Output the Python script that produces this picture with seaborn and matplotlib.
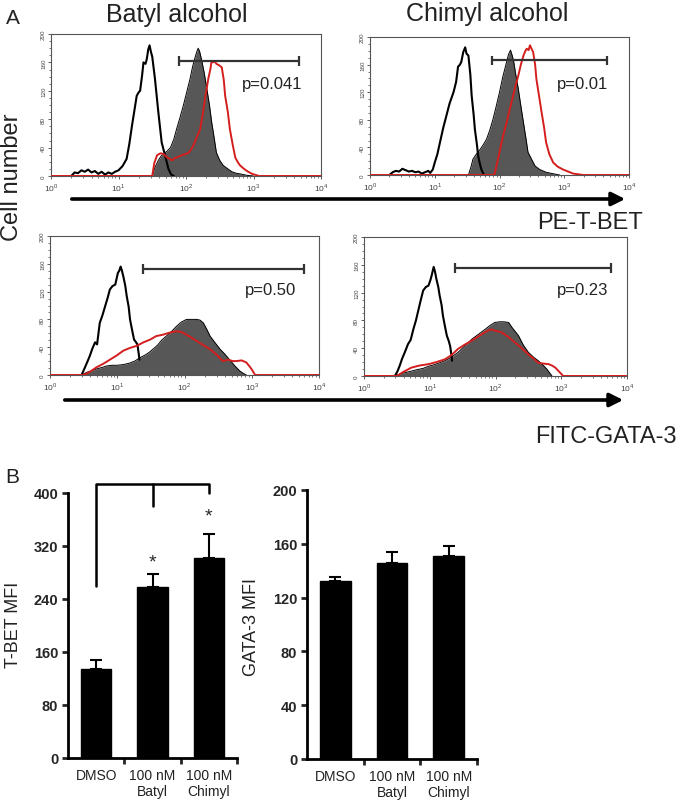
import numpy as np
import matplotlib
matplotlib.use("Agg")
import matplotlib.pyplot as plt
from matplotlib.ticker import FixedLocator, NullFormatter
import seaborn as sns

# ---- Panel A: flow histograms (x = log10 fluorescence, y = cell count) ----
# top-left: Batyl alcohol, PE-T-BET
tl_black_x = [0.30, 0.35, 0.40, 0.45, 0.50, 0.55, 0.60, 0.65, 0.70, 0.75, 0.80, 0.85, 0.90, 0.95, 1.00, 1.06,
              1.12, 1.16, 1.20, 1.24, 1.27, 1.30, 1.32, 1.35, 1.37, 1.40, 1.42, 1.44, 1.46, 1.48, 1.50, 1.54,
              1.59, 1.64, 1.69, 1.74, 1.78, 1.82]
tl_black_y = [0, 5, 4, 8, 6, 9, 5, 7, 3, 6, 2, 5, 3, 6, 8, 14, 24, 45, 71, 95, 113, 118, 120, 142, 160, 158,
              165, 178, 184, 175, 168, 137, 90, 47, 29, 10, 2, 0]
tl_gray_x = [1.50, 1.54, 1.59, 1.63, 1.67, 1.72, 1.77, 1.82, 1.86, 1.91, 1.96, 2.01, 2.06, 2.10, 2.14, 2.16,
             2.18, 2.20, 2.23, 2.27, 2.31, 2.35, 2.38, 2.42, 2.45, 2.50, 2.55, 2.62, 2.68, 2.74, 2.80, 2.90, 3.00]
tl_gray_y = [0, 12, 22, 28, 31, 35, 40, 52, 66, 82, 99, 118, 137, 155, 169, 175, 180, 176, 164, 145, 122, 98,
             76, 52, 33, 22, 15, 10, 6, 4, 3, 1, 0]
tl_red_x = [0, 1.50, 1.53, 1.57, 1.60, 1.63, 1.68, 1.72, 1.76, 1.79, 1.83, 1.86, 1.91, 1.96, 2.00, 2.04, 2.08,
            2.11, 2.16, 2.21, 2.25, 2.28, 2.31, 2.33, 2.36, 2.38, 2.40, 2.42, 2.45, 2.49, 2.53, 2.56, 2.58, 2.62,
            2.65, 2.69, 2.73, 2.77, 2.80, 2.86, 2.92, 2.98, 3.05, 3.08, 4]
tl_red_y = [0, 0, 18, 29, 31, 32, 30, 26, 24, 22, 25, 26, 28, 30, 31, 33, 38, 43, 55, 66, 88, 108, 125, 137,
            150, 162, 160, 162, 158, 156, 153, 135, 113, 90, 66, 45, 26, 19, 15, 10, 6, 3, 1, 0, 0]

# top-right: Chimyl alcohol, PE-T-BET
tr_black_x = [0.30, 0.35, 0.40, 0.45, 0.50, 0.55, 0.60, 0.65, 0.70, 0.75, 0.80, 0.85, 0.90, 0.93, 0.97, 1.00,
              1.04, 1.08, 1.13, 1.18, 1.23, 1.29, 1.33, 1.36, 1.39, 1.41, 1.44, 1.47, 1.49, 1.52, 1.55, 1.57,
              1.60, 1.62, 1.65, 1.67, 1.70, 1.72, 1.76]
tr_black_y = [0, 4, 6, 5, 9, 7, 5, 6, 4, 5, 2, 4, 6, 3, 8, 18, 30, 47, 68, 86, 104, 120, 135, 157, 160, 164,
              178, 185, 176, 173, 145, 115, 88, 66, 45, 28, 15, 8, 0]
tr_gray_x = [1.52, 1.56, 1.59, 1.64, 1.70, 1.75, 1.80, 1.85, 1.90, 1.95, 2.00, 2.05, 2.11, 2.14, 2.17, 2.20,
             2.22, 2.25, 2.29, 2.33, 2.37, 2.41, 2.44, 2.50, 2.55, 2.62, 2.72, 2.82, 2.93]
tr_gray_y = [0, 12, 23, 30, 37, 44, 52, 65, 81, 100, 120, 142, 164, 175, 181, 172, 164, 146, 125, 100, 76, 52,
             33, 22, 13, 8, 4, 2, 0]
tr_red_x = [0, 1.92, 1.95, 2.00, 2.05, 2.11, 2.16, 2.21, 2.25, 2.29, 2.33, 2.37, 2.40, 2.42, 2.45, 2.47, 2.50,
            2.52, 2.55, 2.57, 2.61, 2.65, 2.69, 2.72, 2.77, 2.83, 2.90, 2.98, 3.06, 3.14, 3.22, 3.29, 4]
tr_red_y = [0, 0, 12, 33, 55, 76, 96, 115, 130, 144, 160, 173, 180, 183, 181, 188, 182, 178, 160, 139, 115, 91,
            68, 47, 30, 18, 12, 8, 5, 2, 1, 0, 0]

# bottom-left: Batyl alcohol, FITC-GATA-3
bl_black_x = [0.47, 0.52, 0.56, 0.59, 0.63, 0.67, 0.70, 0.74, 0.78, 0.82, 0.86, 0.89, 0.93, 0.97, 1.01, 1.03,
              1.05, 1.07, 1.09, 1.12, 1.14, 1.17, 1.19, 1.22, 1.25, 1.28, 1.30, 1.32, 1.33]
bl_black_y = [0, 11, 20, 27, 38, 47, 44, 75, 86, 99, 112, 123, 128, 130, 147, 150, 156, 150, 142, 128, 114,
              98, 80, 65, 51, 47, 44, 30, 22]
bl_gray_x = [0.47, 0.55, 0.62, 0.70, 0.78, 0.84, 0.92, 1.00, 1.09, 1.18, 1.26, 1.34, 1.42, 1.48, 1.53, 1.60,
             1.66, 1.73, 1.80, 1.88, 1.95, 2.03, 2.10, 2.18, 2.23, 2.28, 2.33, 2.38, 2.45, 2.53, 2.60, 2.67,
             2.75, 2.82, 2.88, 2.92]
bl_gray_y = [0, 4, 6, 9, 11, 13, 14, 14, 15, 17, 20, 25, 29, 33, 37, 43, 50, 56, 62, 70, 76, 80, 80, 80, 79,
             75, 66, 56, 47, 37, 30, 22, 13, 6, 2, 0]
bl_red_x = [0, 0.50, 0.60, 0.69, 0.79, 0.89, 0.99, 1.09, 1.19, 1.29, 1.39, 1.49, 1.58, 1.68, 1.78, 1.88, 1.95,
            2.03, 2.10, 2.18, 2.28, 2.38, 2.48, 2.57, 2.65, 2.72, 2.77, 2.85, 2.92, 2.97, 3.00, 3.05, 4]
bl_red_y = [0, 0, 5, 11, 16, 22, 28, 35, 39, 42, 47, 51, 56, 58, 61, 63, 62, 58, 54, 49, 43, 37, 29, 20, 22,
            20, 20, 21, 18, 12, 8, 0, 0]

# bottom-right: Chimyl alcohol, FITC-GATA-3
br_black_x = [0.47, 0.51, 0.54, 0.58, 0.62, 0.67, 0.71, 0.75, 0.79, 0.82, 0.86, 0.90, 0.94, 0.98, 1.01, 1.03,
              1.06, 1.08, 1.10, 1.13, 1.15, 1.18, 1.20, 1.23, 1.26, 1.29, 1.31, 1.33, 1.34]
br_black_y = [0, 7, 14, 25, 34, 46, 52, 67, 80, 92, 108, 123, 128, 130, 138, 145, 157, 150, 140, 128, 116,
              102, 87, 72, 58, 50, 43, 30, 22]
br_gray_x = [0.47, 0.55, 0.63, 0.72, 0.80, 0.90, 0.98, 1.06, 1.15, 1.23, 1.33, 1.43, 1.53, 1.64, 1.74, 1.84,
             1.92, 1.99, 2.06, 2.13, 2.20, 2.25, 2.30, 2.35, 2.42, 2.50, 2.58, 2.65, 2.72, 2.78, 2.82, 2.86]
br_gray_y = [0, 3, 5, 7, 9, 11, 14, 16, 19, 22, 27, 34, 43, 53, 60, 67, 73, 77, 78, 78, 77, 70, 64, 58, 45, 34,
             27, 22, 16, 10, 5, 0]
br_red_x = [0, 0.50, 0.60, 0.72, 0.84, 0.98, 1.10, 1.23, 1.33, 1.43, 1.53, 1.64, 1.74, 1.84, 1.90, 1.94, 2.00,
            2.09, 2.20, 2.30, 2.40, 2.50, 2.58, 2.65, 2.72, 2.81, 2.86, 2.91, 2.97, 3.03, 4]
br_red_y = [0, 0, 6, 12, 15, 17, 20, 24, 30, 39, 45, 51, 57, 63, 66, 67, 65, 63, 56, 48, 40, 31, 25, 19, 18,
            17, 15, 12, 6, 0, 0]

# gates (log10 start, log10 end, height) and p-values
gates = [(1.90, 3.67, 162), (1.89, 3.66, 166), (1.38, 3.78, 152), (1.39, 3.76, 155)]
p_labels = ["p=0.041", "p=0.01", "p=0.50", "p=0.23"]
p_pos = [(3.28, 130), (3.28, 132), (3.28, 123), (3.33, 125)]

# ---- Panel B: MFI bars ----
conditions = ["DMSO", "100 nM\nBatyl", "100 nM\nChimyl"]
tbet_mfi = [135, 258, 302]
tbet_err = [13, 20, 36]
gata3_mfi = [132, 146, 151]
gata3_err = [3, 8, 7]

sns.set_style("white")
plt.rcParams["font.family"] = ["Liberation Sans", "DejaVu Sans"]
plt.rcParams["mathtext.fontset"] = "custom"
plt.rcParams["mathtext.rm"] = "Liberation Sans"

fig = plt.figure(figsize=(6.78, 8.04), dpi=100)
W, H = 678.0, 804.0


def px_axes(x0, y0, x1, y1):
    # pixel box (top-left origin) -> axes
    return fig.add_axes([x0 / W, 1 - y1 / H, (x1 - x0) / W, (y1 - y0) / H])


def draw_hist(ax, bx, by, gx, gy, rx, ry, gate, ptxt, ppos):
    gxv = 10 ** np.array(gx)
    ax.fill_between(gxv, gy, 0, color="#575757", lw=0, zorder=1)
    sns.lineplot(x=gxv, y=gy, ax=ax, color="black", lw=0.7, estimator=None, sort=False, zorder=2)
    sns.lineplot(x=10 ** np.array(bx), y=by, ax=ax, color="black", lw=1.5, estimator=None, sort=False, zorder=3)
    sns.lineplot(x=10 ** np.array(rx), y=ry, ax=ax, color="#d41e1e", lw=1.4, estimator=None, sort=False, zorder=4)
    g0, g1, gh = gate
    ax.hlines(gh, 10 ** g0, 10 ** g1, color="#333333", lw=1.6, zorder=5)
    ax.vlines([10 ** g0, 10 ** g1], gh - 7, gh + 7, color="#333333", lw=1.6, zorder=5)
    ax.text(10 ** ppos[0], ppos[1], ptxt, fontsize=12, ha="center", va="center", color="#222222")
    ax.set_xscale("log")
    ax.set_xlim(1, 1e4)
    ax.set_ylim(0, 200)
    ax.set_xticks([1, 10, 100, 1000, 10000])
    ax.set_xticklabels([r"$10^{0}$", r"$10^{1}$", r"$10^{2}$", r"$10^{3}$", r"$10^{4}$"])
    ax.set_yticks([0, 40, 80, 120, 160, 200])
    ax.yaxis.set_minor_locator(FixedLocator(np.arange(0, 201, 10)))
    ax.tick_params(axis="x", which="major", labelsize=6, length=2.5, width=0.6, pad=1, direction="out",
                   bottom=True, colors="#444444")
    ax.tick_params(axis="x", which="minor", length=1.5, width=0.5, bottom=True, colors="#444444")
    ax.tick_params(axis="y", which="major", labelsize=4.5, length=2.5, width=0.6, pad=1, left=True,
                   colors="#444444")
    ax.tick_params(axis="y", which="minor", length=1.5, width=0.5, left=True, colors="#444444")
    for lab in ax.get_yticklabels():
        lab.set_rotation(90)
        lab.set_va("center")
    ax.set_xlabel("")
    ax.set_ylabel("")
    for s in ax.spines.values():
        s.set_color("#555555")
        s.set_linewidth(0.8)


ax_tl = px_axes(51, 35, 321, 177)
draw_hist(ax_tl, tl_black_x, tl_black_y, tl_gray_x, tl_gray_y, tl_red_x, tl_red_y, gates[0], p_labels[0], p_pos[0])
ax_tr = px_axes(370, 38, 629, 176)
draw_hist(ax_tr, tr_black_x, tr_black_y, tr_gray_x, tr_gray_y, tr_red_x, tr_red_y, gates[1], p_labels[1], p_pos[1])
ax_bl = px_axes(50, 237, 319, 376)
draw_hist(ax_bl, bl_black_x, bl_black_y, bl_gray_x, bl_gray_y, bl_red_x, bl_red_y, gates[2], p_labels[2], p_pos[2])
ax_br = px_axes(364, 238, 627, 377)
draw_hist(ax_br, br_black_x, br_black_y, br_gray_x, br_gray_y, br_red_x, br_red_y, gates[3], p_labels[3], p_pos[3])

# axis arrows and labels for panel A
for (x0, x1, y) in [(69, 628, 200), (62, 626, 401)]:
    fig.add_artist(matplotlib.patches.FancyArrowPatch(
        (x0 / W, 1 - y / H), (x1 / W, 1 - y / H), transform=fig.transFigure,
        arrowstyle="-|>", mutation_scale=20, lw=2.6, color="black"))

fig.text(6 / W, 1 - 18 / H, "A", fontsize=15, ha="left", va="center", color="#222222")
fig.text(177 / W, 1 - 15 / H, "Batyl alcohol", fontsize=18, ha="center", va="center", color="#222222")
fig.text(487 / W, 1 - 14 / H, "Chimyl alcohol", fontsize=18, ha="center", va="center", color="#222222")
fig.text(12 / W, 1 - 177 / H, "Cell number", fontsize=17, rotation=90, ha="center", va="center", color="#222222")
fig.text(643 / W, 1 - 223 / H, "PE-T-BET", fontsize=17, ha="right", va="center", color="#222222")
fig.text(677 / W, 1 - 437 / H, "FITC-GATA-3", fontsize=17, ha="right", va="center", color="#222222")
fig.text(5 / W, 1 - 478 / H, "B", fontsize=15, ha="left", va="center", color="#222222")


def draw_bars(ax, vals, errs, ymax, step):
    sns.barplot(x=conditions, y=vals, color="black", width=0.54, errorbar=None, ax=ax,
                edgecolor="black", saturation=1)
    ax.errorbar(range(len(vals)), vals, yerr=[[0] * len(errs), errs], fmt="none", ecolor="black",
                elinewidth=1.5, capsize=4, capthick=1.5)
    ax.set_xlim(-0.5, 2.5)
    ax.set_ylim(0, ymax)
    ax.set_yticks(np.arange(0, ymax + 1, step))
    ax.xaxis.set_minor_locator(FixedLocator([0.5, 1.5, 2.5]))
    ax.xaxis.set_minor_formatter(NullFormatter())
    ax.tick_params(axis="x", which="major", length=0, labelsize=10, pad=7, colors="#222222")
    ax.tick_params(axis="x", which="minor", length=4, width=2, bottom=True, direction="out")
    ax.tick_params(axis="y", which="major", length=4, width=2, left=True, direction="out", labelsize=10.5, pad=3)
    for lab in ax.get_yticklabels():
        lab.set_fontweight("bold")
    sns.despine(ax=ax)
    ax.spines["left"].set_linewidth(2)
    ax.spines["bottom"].set_linewidth(2)
    ax.spines["left"].set_color("black")
    ax.spines["bottom"].set_color("black")
    ax.set_xlabel("")
    ax.set_ylabel("")


ax_b1 = px_axes(68, 494, 237, 759)
draw_bars(ax_b1, tbet_mfi, tbet_err, 400, 80)
# significance bracket
ax_b1.plot([0, 0, 2, 2], [260, 413, 413, 400], color="black", lw=1.8, clip_on=False)
ax_b1.plot([1, 1], [413, 380], color="black", lw=1.8, clip_on=False)
ax_b1.text(1, 296, "*", fontsize=14, ha="center", va="center")
ax_b1.text(2, 365, "*", fontsize=14, ha="center", va="center")

ax_b2 = px_axes(307, 491, 477, 760)
draw_bars(ax_b2, gata3_mfi, gata3_err, 200, 40)

fig.text(13 / W, 1 - 625 / H, "T-BET MFI", fontsize=13, rotation=90, ha="center", va="center", color="#222222")
fig.text(251 / W, 1 - 627 / H, "GATA-3 MFI", fontsize=13, rotation=90, ha="center", va="center", color="#222222")

fig.savefig("out.png", dpi=100)
